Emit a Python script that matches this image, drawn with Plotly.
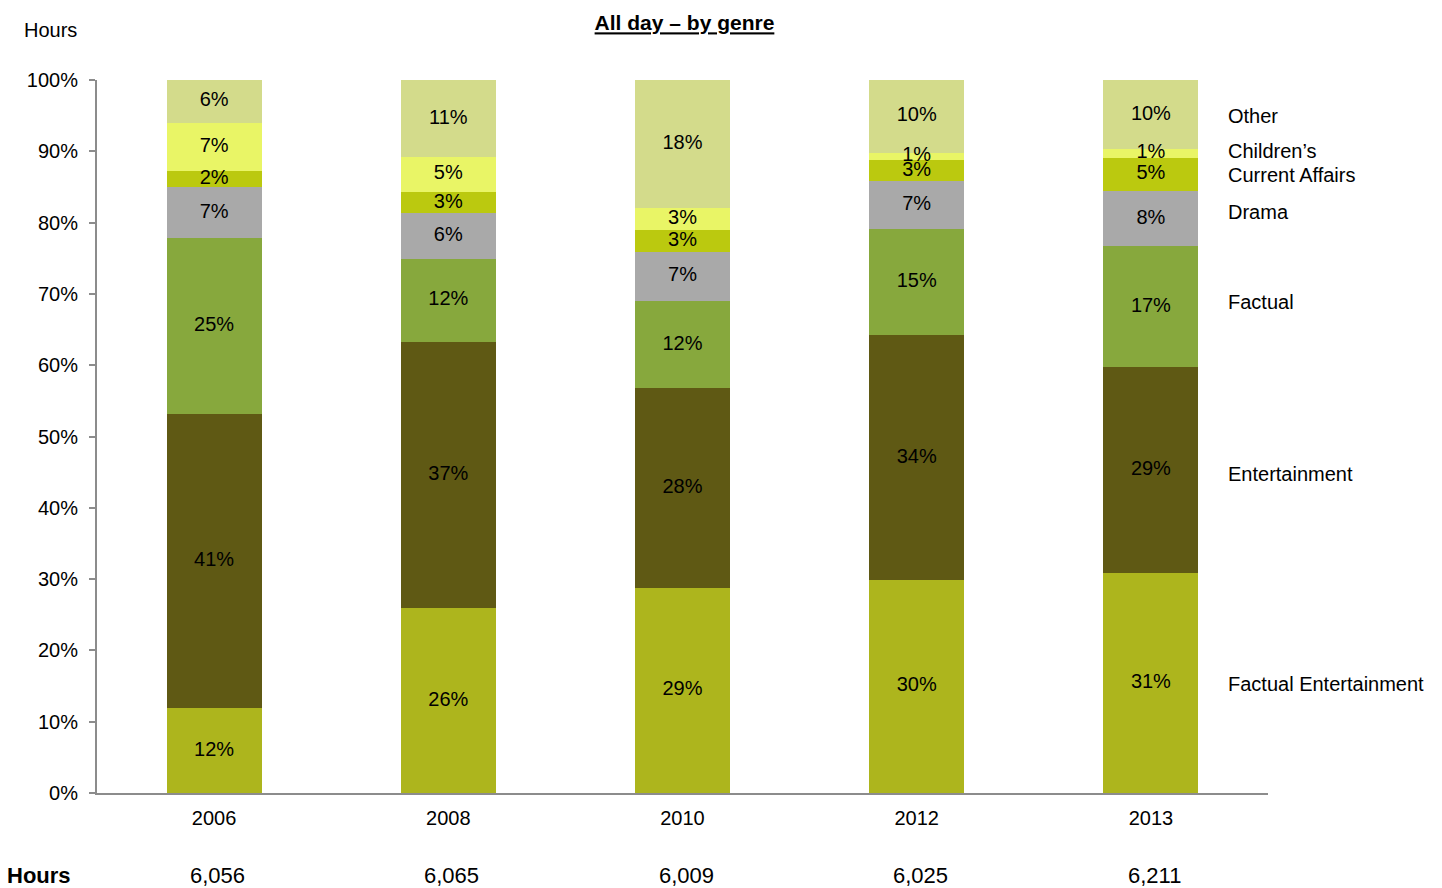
import plotly.graph_objects as go

# Share of daytime output by genre (%), one list per genre, ordered by year
years = ["2006", "2008", "2010", "2012", "2013"]
hours = ["6,056", "6,065", "6,009", "6,025", "6,211"]

factual_entertainment = [11.9, 25.9, 28.8, 29.9, 30.9]
entertainment = [41.3, 37.4, 28.0, 34.3, 28.8]
factual = [24.6, 11.6, 12.2, 14.9, 17.0]
drama = [7.2, 6.4, 6.9, 6.7, 7.7]
current_affairs = [2.2, 3.0, 3.1, 3.0, 4.7]
childrens = [6.8, 4.9, 3.0, 1.0, 1.2]
other = [6.0, 10.8, 18.0, 10.2, 9.7]

genres = [
    ("Factual Entertainment", factual_entertainment, "#ADB51D"),
    ("Entertainment", entertainment, "#5F5914"),
    ("Factual", factual, "#87A83D"),
    ("Drama", drama, "#A9A9A9"),
    ("Current Affairs", current_affairs, "#BBC90F"),
    ("Children\u2019s", childrens, "#E9F566"),
    ("Other", other, "#D3DB8B"),
]

# Right-hand genre labels and their heights on the percentage axis
side_labels = ["Factual Entertainment", "Entertainment", "Factual", "Drama",
               "Current Affairs", "Children\u2019s", "Other"]
side_label_y = [15.3, 44.7, 68.9, 81.5, 86.7, 90.1, 95.0]

FONT = "Liberation Sans, Arial, sans-serif"
AXIS_GREY = "#8C8C8C"

fig = go.Figure()

# Stacked bars
for name, vals, color in genres:
    fig.add_trace(go.Bar(
        x=years,
        y=vals,
        name=name,
        marker=dict(color=color, line=dict(width=0)),
        hoverinfo="skip",
    ))

# Percentage labels at the middle of each segment, drawn above all bars
base = [0.0] * len(years)
for name, vals, color in genres:
    mids = [b + v / 2 for b, v in zip(base, vals)]
    fig.add_trace(go.Scatter(
        x=years,
        y=mids,
        mode="text",
        text=[f"{v:.0f}%" for v in vals],
        textposition="middle center",
        textfont=dict(family=FONT, size=20, color="#000000"),
        hoverinfo="skip",
        showlegend=False,
        cliponaxis=False,
    ))
    base = [b + v for b, v in zip(base, vals)]

annotations = []
for label, ypos in zip(side_labels, side_label_y):
    annotations.append(dict(
        text=label, xref="paper", yref="y", x=0.9641, y=ypos,
        xanchor="left", yanchor="middle", showarrow=False,
        font=dict(family=FONT, size=20, color="#000000"),
    ))

# Hours row beneath the axis, one entry per year category (by category index)
annotations.append(dict(
    text="<b>Hours</b>", xref="paper", yref="paper", x=-0.0786, y=-0.116,
    xanchor="left", yanchor="middle", showarrow=False,
    font=dict(family=FONT, size=22, color="#000000"),
))
for idx, h in enumerate(hours):
    annotations.append(dict(
        text=h, xref="x", yref="paper", x=idx + 0.015, y=-0.116,
        xanchor="center", yanchor="middle", showarrow=False,
        font=dict(family=FONT, size=22, color="#000000"),
    ))

# Axis caption above the percentage scale
annotations.append(dict(
    text="Hours", xref="paper", yref="paper", x=-0.0393, y=1.070,
    xanchor="center", yanchor="middle", showarrow=False,
    font=dict(family=FONT, size=20, color="#000000"),
))

fig.update_layout(
    width=1442,
    height=888,
    margin=dict(l=97, r=174, t=80, b=95),
    paper_bgcolor="white",
    plot_bgcolor="white",
    barmode="stack",
    bargap=0.595,
    showlegend=False,
    font=dict(family=FONT, size=20, color="#000000"),
    title=dict(
        text="<b><u>All day \u2013 by genre</u></b>",
        x=0.5017, xref="paper", xanchor="center",
        y=1 - 23 / 888, yref="container", yanchor="middle",
        font=dict(family=FONT, size=21, color="#000000"),
    ),
    xaxis=dict(
        type="category",
        categoryorder="array", categoryarray=years,
        range=[-0.5, len(years) - 0.5],
        showline=True, linecolor=AXIS_GREY, linewidth=2,
        ticks="outside", ticklen=6, tickcolor="rgba(0,0,0,0)",
        showgrid=False, zeroline=False,
        tickfont=dict(family=FONT, size=20, color="#000000"),
    ),
    yaxis=dict(
        range=[0, 100],
        tickmode="array",
        tickvals=[0, 10, 20, 30, 40, 50, 60, 70, 80, 90, 100],
        ticktext=["0%", "10%", "20%", "30%", "40%", "50%",
                  "60%", "70%", "80%", "90%", "100%"],
        showline=True, linecolor=AXIS_GREY, linewidth=2,
        ticks="outside", ticklen=6, tickcolor=AXIS_GREY, tickwidth=2,
        ticklabelstandoff=7,
        showgrid=False, zeroline=False,
        tickfont=dict(family=FONT, size=20, color="#000000"),
    ),
    annotations=annotations,
)

fig.write_html("out.html")
